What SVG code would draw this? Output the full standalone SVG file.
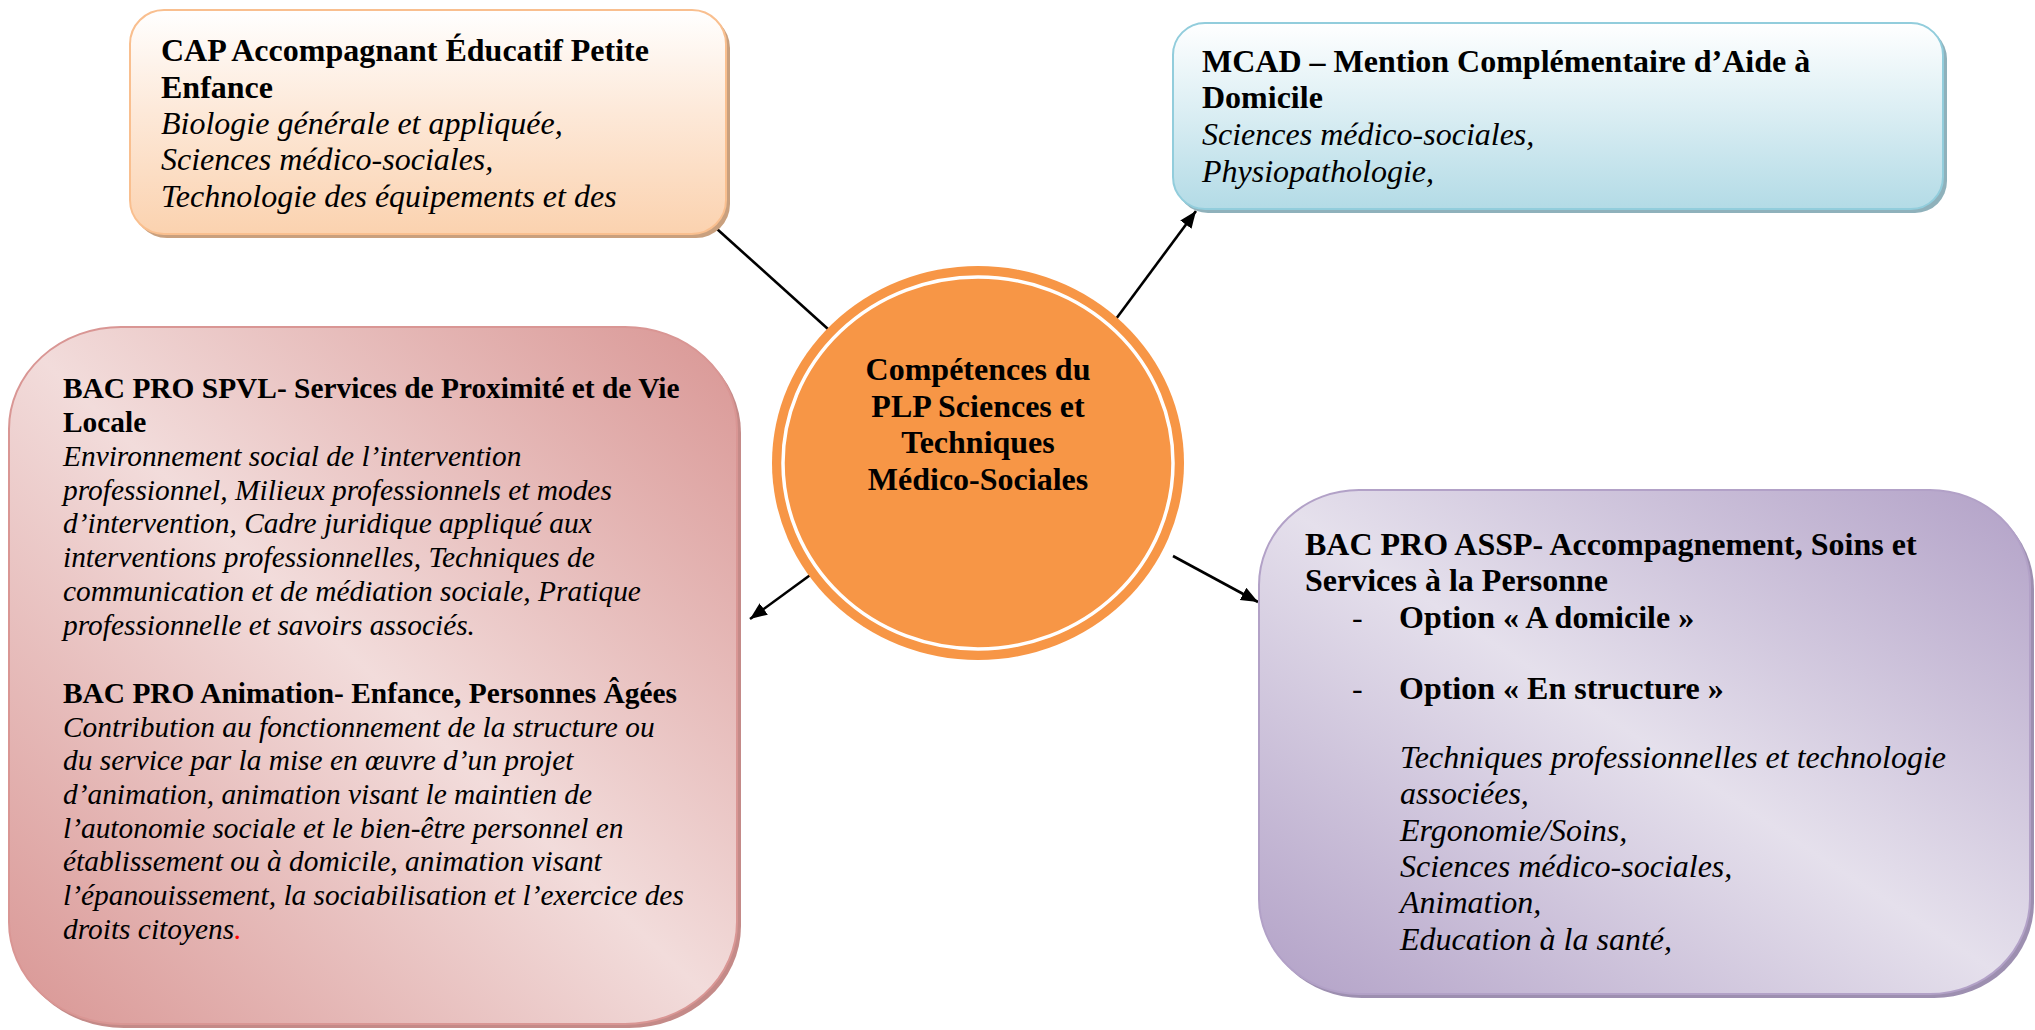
<svg xmlns="http://www.w3.org/2000/svg" width="2035" height="1030" viewBox="0 0 2035 1030">
<defs>
<linearGradient id="gCap" x1="0" y1="0" x2="0" y2="1">
<stop offset="0" stop-color="#ffffff"/>
<stop offset="0.45" stop-color="#fde9d9"/>
<stop offset="1" stop-color="#fbd2af"/>
</linearGradient>
<linearGradient id="gMcad" x1="0" y1="0" x2="0" y2="1">
<stop offset="0" stop-color="#ffffff"/>
<stop offset="0.45" stop-color="#ddeff4"/>
<stop offset="1" stop-color="#b3dbe6"/>
</linearGradient>
<linearGradient id="gSpvl" x1="0" y1="1" x2="1" y2="0">
<stop offset="0" stop-color="#d99694"/>
<stop offset="0.5" stop-color="#f2dcdb"/>
<stop offset="1" stop-color="#d99694"/>
</linearGradient>
<linearGradient id="gAssp" x1="0" y1="1" x2="1" y2="0">
<stop offset="0" stop-color="#b2a1c7"/>
<stop offset="0.5" stop-color="#e5e0ec"/>
<stop offset="1" stop-color="#b2a1c7"/>
</linearGradient>
<marker id="arr" markerUnits="userSpaceOnUse" markerWidth="20" markerHeight="16" refX="17" refY="7" orient="auto">
<path d="M0,0 L17,7 L0,14 Z" fill="#000"/>
</marker>
<style>
text{font-family:"Liberation Serif","Times New Roman",serif;fill:#000}
.t{font-size:32px}
.s{font-size:29.4px}
.b{font-weight:bold}
.i{font-style:italic}
.conn{stroke:#000;stroke-width:2.6;fill:none}
</style>
</defs>

<g id="connectors">
<line class="conn" x1="717" y1="229" x2="828" y2="329"/>
<line class="conn" x1="1113" y1="323" x2="1196" y2="211" marker-end="url(#arr)"/>
<line class="conn" x1="813" y1="573" x2="750" y2="619" marker-end="url(#arr)"/>
<line class="conn" x1="1173" y1="556" x2="1258" y2="602" marker-end="url(#arr)"/>
</g>

<g id="node-cap">
<rect x="133" y="14" width="597" height="224" rx="34" fill="#c9a07e"/>
<rect x="130" y="10" width="596" height="224" rx="34" fill="url(#gCap)" stroke="#f9bf8f" stroke-width="2"/>
<text class="t b" x="161" y="61">CAP Accompagnant Éducatif Petite</text>
<text class="t b" x="161" y="98">Enfance</text>
<text class="t i" x="161" y="134">Biologie générale et appliquée,</text>
<text class="t i" x="161" y="170">Sciences médico-sociales,</text>
<text class="t i" x="161" y="207">Technologie des équipements et des</text>
</g>

<g id="node-mcad">
<rect x="1176" y="27" width="771" height="186" rx="32" fill="#8fb1bb"/>
<rect x="1173" y="23" width="770" height="186" rx="32" fill="url(#gMcad)" stroke="#92cddc" stroke-width="2"/>
<text class="t b" x="1202" y="72">MCAD – Mention Complémentaire d’Aide à</text>
<text class="t b" x="1202" y="108">Domicile</text>
<text class="t i" x="1202" y="145">Sciences médico-sociales,</text>
<text class="t i" x="1202" y="182">Physiopathologie,</text>
</g>

<g id="node-spvl">
<rect x="12" y="331" width="729" height="697" rx="112" ry="102" fill="#c48a88"/>
<rect x="9" y="327" width="728" height="697" rx="112" ry="102" fill="url(#gSpvl)" stroke="#d99694" stroke-width="2"/>
<text class="s b" x="63" y="398">BAC PRO SPVL- Services de Proximité et de Vie</text>
<text class="s b" x="63" y="432">Locale</text>
<text class="s i" x="63" y="466">Environnement social de l’intervention</text>
<text class="s i" x="63" y="500">professionnel, Milieux professionnels et modes</text>
<text class="s i" x="63" y="533">d’intervention, Cadre juridique appliqué aux</text>
<text class="s i" x="63" y="567">interventions professionnelles, Techniques de</text>
<text class="s i" x="63" y="601">communication et de médiation sociale, Pratique</text>
<text class="s i" x="63" y="635">professionnelle et savoirs associés.</text>
<text class="s b" x="63" y="703">BAC PRO Animation- Enfance, Personnes Âgées</text>
<text class="s i" x="63" y="737">Contribution au fonctionnement de la structure ou</text>
<text class="s i" x="63" y="770">du service par la mise en œuvre d’un projet</text>
<text class="s i" x="63" y="804">d’animation, animation visant le maintien de</text>
<text class="s i" x="63" y="838">l’autonomie sociale et le bien-être personnel en</text>
<text class="s i" x="63" y="871">établissement ou à domicile, animation visant</text>
<text class="s i" x="63" y="905">l’épanouissement, la sociabilisation et l’exercice des</text>
<text class="s i" x="63" y="939">droits citoyens<tspan fill="#ff0000">.</tspan></text>
</g>

<g id="node-assp">
<rect x="1262" y="494" width="772" height="504" rx="100" ry="95" fill="#9d8fb0"/>
<rect x="1259" y="490" width="771" height="504" rx="100" ry="95" fill="url(#gAssp)" stroke="#b2a1c7" stroke-width="2"/>
<text class="t b" x="1305" y="555">BAC PRO ASSP- Accompagnement, Soins et</text>
<text class="t b" x="1305" y="591">Services à la Personne</text>
<text class="t" x="1352" y="628">-</text>
<text class="t b" x="1399" y="628">Option « A domicile »</text>
<text class="t" x="1352" y="699">-</text>
<text class="t b" x="1399" y="699">Option « En structure »</text>
<text class="t i" x="1400" y="768">Techniques professionnelles et technologie</text>
<text class="t i" x="1400" y="804">associées,</text>
<text class="t i" x="1400" y="841">Ergonomie/Soins,</text>
<text class="t i" x="1400" y="877">Sciences médico-sociales,</text>
<text class="t i" x="1400" y="913">Animation,</text>
<text class="t i" x="1400" y="950">Education à la santé,</text>
</g>

<g id="node-center">
<ellipse cx="978" cy="463" rx="206" ry="197" fill="#f79646"/>
<ellipse cx="978" cy="463" rx="195" ry="186" fill="none" stroke="#ffffff" stroke-width="3.5"/>
<text class="t b" x="978" y="380" text-anchor="middle">Compétences du</text>
<text class="t b" x="978" y="417" text-anchor="middle">PLP Sciences et</text>
<text class="t b" x="978" y="453" text-anchor="middle">Techniques</text>
<text class="t b" x="978" y="490" text-anchor="middle">Médico-Sociales</text>
</g>
</svg>
